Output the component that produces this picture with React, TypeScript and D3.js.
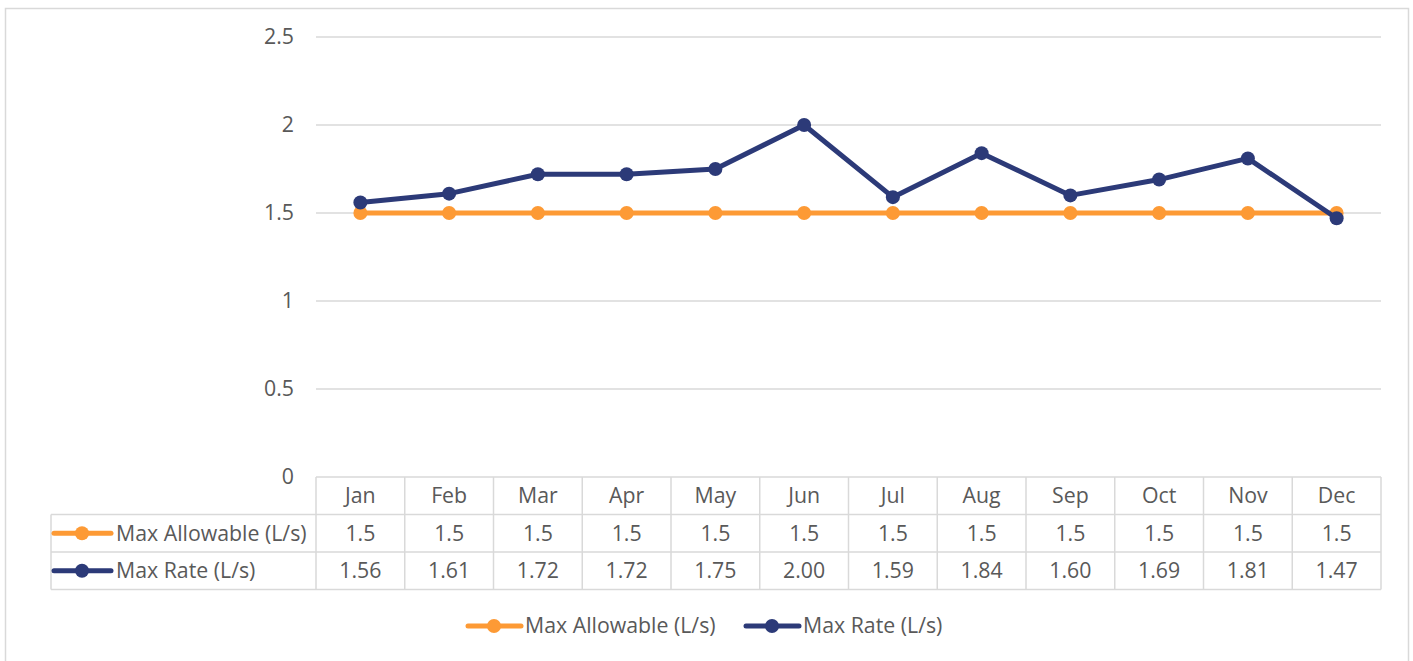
import * as d3 from "d3";

const months = ["Jan", "Feb", "Mar", "Apr", "May", "Jun", "Jul", "Aug", "Sep", "Oct", "Nov", "Dec"];
const maxAllowable = [1.5, 1.5, 1.5, 1.5, 1.5, 1.5, 1.5, 1.5, 1.5, 1.5, 1.5, 1.5];
const maxRate = [1.56, 1.61, 1.72, 1.72, 1.75, 2.0, 1.59, 1.84, 1.6, 1.69, 1.81, 1.47];
const yTicks = [0, 0.5, 1, 1.5, 2, 2.5];

const seriesList = [
  { name: "Max Allowable (L/s)", values: maxAllowable, color: "#FD9A35", fmt: (v: number) => String(v) },
  { name: "Max Rate (L/s)", values: maxRate, color: "#2C3A78", fmt: (v: number) => v.toFixed(2) },
];

export default function App() {
  const width = 1413;
  const height = 661;
  const left = 316;
  const right = 1381;
  const top = 37;
  const bottom = 477;
  const rowH = 37.5;
  const tableLeft = 51;
  const font = "'Open Sans', sans-serif";
  const fs = 21.3;

  const x = d3.scaleBand<string>().domain(months).range([left, right]);
  const y = d3.scaleLinear().domain([0, 2.5]).range([bottom, top]);
  const line = d3
    .line<number>()
    .x((_, i) => (x(months[i]) as number) + x.bandwidth() / 2)
    .y((d) => y(d));

  const grid = "#d9d9d9";
  const textCol = "#595959";

  return (
    <svg width={width} height={height} style={{ position: "absolute", left: 0, top: 0 }}>
      <rect x={5.5} y={8.5} width={1403} height={660} fill="#fff" stroke={grid} strokeWidth={1.5} />
      {yTicks.map((t) => (
        <g key={t}>
          {t > 0 && <line x1={left} x2={right} y1={y(t)} y2={y(t)} stroke={grid} strokeWidth={1.3} />}
          <text x={294} y={y(t)} dy="0.35em" textAnchor="end" fontFamily={font} fontSize={fs} fill={textCol}>
            {t}
          </text>
        </g>
      ))}
      {/* data table */}
      <g stroke={grid} strokeWidth={1.5} fill="none">
        <line x1={left} x2={right} y1={bottom} y2={bottom} />
        <line x1={tableLeft} x2={right} y1={bottom + rowH} y2={bottom + rowH} />
        <line x1={tableLeft} x2={right} y1={bottom + rowH * 2} y2={bottom + rowH * 2} />
        <line x1={tableLeft} x2={right} y1={bottom + rowH * 3} y2={bottom + rowH * 3} />
        <line x1={tableLeft} x2={tableLeft} y1={bottom + rowH} y2={bottom + rowH * 3} />
        {months.map((m) => (
          <line key={m} x1={x(m)} x2={x(m)} y1={bottom} y2={bottom + rowH * 3} />
        ))}
        <line x1={right} x2={right} y1={bottom} y2={bottom + rowH * 3} />
      </g>
      {months.map((m) => (
        <text
          key={m}
          x={(x(m) as number) + x.bandwidth() / 2}
          y={bottom + rowH / 2}
          dy="0.35em"
          textAnchor="middle"
          fontFamily={font}
          fontSize={fs}
          fill={textCol}
        >
          {m}
        </text>
      ))}
      {seriesList.map((s, si) => {
        const cy = bottom + rowH * (si + 1.5);
        return (
          <g key={s.name}>
            <line x1={54} x2={111} y1={cy} y2={cy} stroke={s.color} strokeWidth={5} strokeLinecap="round" />
            <circle cx={82} cy={cy} r={7} fill={s.color} />
            <text x={116} y={cy} dy="0.35em" fontFamily={font} fontSize={fs} fill={textCol}>
              {s.name}
            </text>
            {s.values.map((v, i) => (
              <text
                key={i}
                x={(x(months[i]) as number) + x.bandwidth() / 2}
                y={cy}
                dy="0.35em"
                textAnchor="middle"
                fontFamily={font}
                fontSize={fs}
                fill={textCol}
              >
                {s.fmt(v)}
              </text>
            ))}
          </g>
        );
      })}
      {/* series */}
      {seriesList.map((s) => (
        <g key={s.name}>
          <path d={line(s.values) || ""} fill="none" stroke={s.color} strokeWidth={5} strokeLinejoin="round" />
          {s.values.map((v, i) => (
            <circle key={i} cx={(x(months[i]) as number) + x.bandwidth() / 2} cy={y(v)} r={7} fill={s.color} />
          ))}
        </g>
      ))}
      {/* legend */}
      {seriesList.map((s, si) => {
        const lx = si === 0 ? 468 : 746;
        const ly = 626;
        return (
          <g key={s.name}>
            <line x1={lx} x2={lx + 53} y1={ly} y2={ly} stroke={s.color} strokeWidth={5} strokeLinecap="round" />
            <circle cx={lx + 26} cy={ly} r={7} fill={s.color} />
            <text x={lx + 57} y={ly} dy="0.35em" fontFamily={font} fontSize={fs} fill={textCol}>
              {s.name}
            </text>
          </g>
        );
      })}
    </svg>
  );
}
